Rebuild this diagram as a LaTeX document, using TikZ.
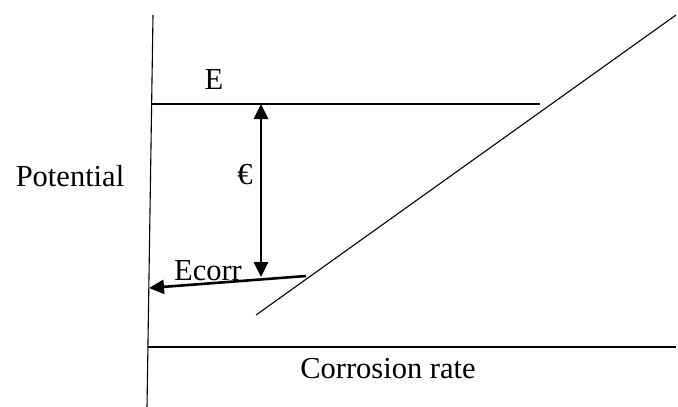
\documentclass[tikz,border=0pt]{standalone}
\usepackage{fontspec}
\setmainfont{Liberation Serif}
\usetikzlibrary{arrows.meta,positioning}

\begin{document}
\begin{tikzpicture}[
  x=1pt,y=-1pt,
  thin line/.style={line width=1.1pt},
  arr/.style={-{Triangle[length=15pt,width=14pt]}, line width=2.6pt},
  darr/.style={{Triangle[length=15pt,width=14pt]}-{Triangle[length=15pt,width=14pt]}, line width=2.6pt},
  lbl/.style={font=\fontsize{30.5}{34}\selectfont, inner sep=0pt}
]
\useasboundingbox (0,0) rectangle (678,407);
% axes
\coordinate (ytop) at (153,15);
\coordinate (ybot) at (147,407);
\coordinate (xl) at (148,347);
\coordinate (xr) at (676,347);
\draw[thin line] (ytop) -- (ybot);
\draw[thin line] (xl) -- (xr);
% potential level and polarisation line
\coordinate (el) at (152,104);
\coordinate (er) at (540,104);
\coordinate (dlo) at (256,315);
\coordinate (dhi) at (676,15);
\draw[thin line] (el) -- (er);
\draw[thin line] (dlo) -- (dhi);
% arrows
\coordinate (top) at (261,104);
\coordinate (bot) at (261,277);
\coordinate (cstart) at (306,276);
\coordinate (cend) at (149,288);
\draw[darr] (bot) -- (top);
\draw[arr] (cstart) -- (cend);
% labels
\node[lbl] (E) at (214,80) {E};
\node[lbl] (eps) at (245,175) {€};
\node[lbl] (pot) at (70,176) {Potential};
\node[lbl] (ecorr) at (208,271) {Ecorr};
\node[lbl] (rate) at (388,369) {Corrosion rate};
\end{tikzpicture}
\end{document}
